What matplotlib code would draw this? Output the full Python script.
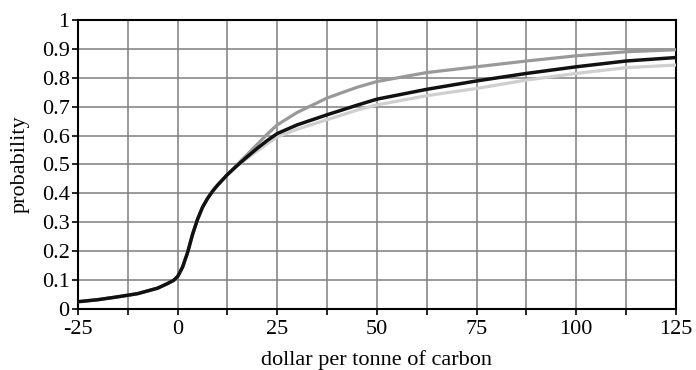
import numpy as np
import matplotlib
matplotlib.use('Agg')
import matplotlib.pyplot as plt

# Carbon price (dollar per tonne of carbon)
price = [-25, -20, -15, -10, -5, -2.5, -1, 0, 1.25, 2.5, 3.75, 5, 6.25, 7.5, 8.75, 10, 12.5,
         15, 17.5, 20, 22.5, 25, 30, 37.5, 45, 50, 62.5, 75, 87.5, 100, 112.5, 125]

# Cumulative probability curves
prob_black = [0.025, 0.032, 0.042, 0.053, 0.072, 0.088, 0.099, 0.112, 0.145, 0.195, 0.258, 0.31, 0.352, 0.382, 0.407, 0.428, 0.465,
              0.497, 0.527, 0.556, 0.583, 0.607, 0.637, 0.672, 0.705, 0.726, 0.76, 0.789, 0.815, 0.838, 0.858, 0.87]
prob_dark = [0.025, 0.032, 0.042, 0.053, 0.072, 0.088, 0.099, 0.112, 0.145, 0.195, 0.258, 0.31, 0.352, 0.382, 0.407, 0.428, 0.465,
             0.50, 0.535, 0.57, 0.605, 0.637, 0.68, 0.73, 0.767, 0.787, 0.818, 0.838, 0.858, 0.876, 0.89, 0.897]
prob_light = [0.025, 0.032, 0.042, 0.053, 0.072, 0.088, 0.099, 0.112, 0.145, 0.195, 0.258, 0.31, 0.352, 0.382, 0.407, 0.428, 0.465,
              0.495, 0.522, 0.547, 0.572, 0.595, 0.622, 0.655, 0.688, 0.706, 0.738, 0.763, 0.792, 0.815, 0.835, 0.844]

x_labels = [-25, 0, 25, 50, 75, 100, 125]

plt.rcParams['font.family'] = ['Liberation Serif', 'DejaVu Serif']

fig = plt.figure(figsize=(6.96, 3.7), dpi=100)
ax = fig.add_axes([0.112, 0.165, 0.859, 0.781])

ax.plot(price, prob_light, color='#cfcfcf', linewidth=2.3, zorder=3)
ax.plot(price, prob_dark, color='#999999', linewidth=2.3, zorder=4)
ax.plot(price, prob_black, color='#111111', linewidth=2.5, zorder=5)

ax.set_xlim(-25, 125)
ax.set_ylim(0, 1)

# grid every 12.5 on x, labels every 25
ax.set_xticks(np.arange(-25, 125.1, 12.5), minor=True)
ax.set_xticks(x_labels)
ax.set_xticklabels([str(v) for v in x_labels])
ax.set_yticks(np.arange(0, 1.01, 0.1))
ax.set_yticklabels(['0'] + ['%.1f' % v for v in np.arange(0.1, 0.95, 0.1)] + ['1'])

ax.grid(True, which='both', color='#7f7f7f', linewidth=1.1, zorder=1)
ax.set_axisbelow(True)

ax.tick_params(axis='both', which='both', direction='out', length=4, width=1.2, color='black',
               labelsize=16, pad=2)
ax.tick_params(axis='x', which='major', pad=4)

for s in ax.spines.values():
    s.set_linewidth(1.5)
    s.set_color('black')

ax.set_xlabel('dollar per tonne of carbon', fontsize=16, labelpad=8)
ax.set_ylabel('probability', fontsize=16, labelpad=9)

fig.savefig('out.png', dpi=100)
